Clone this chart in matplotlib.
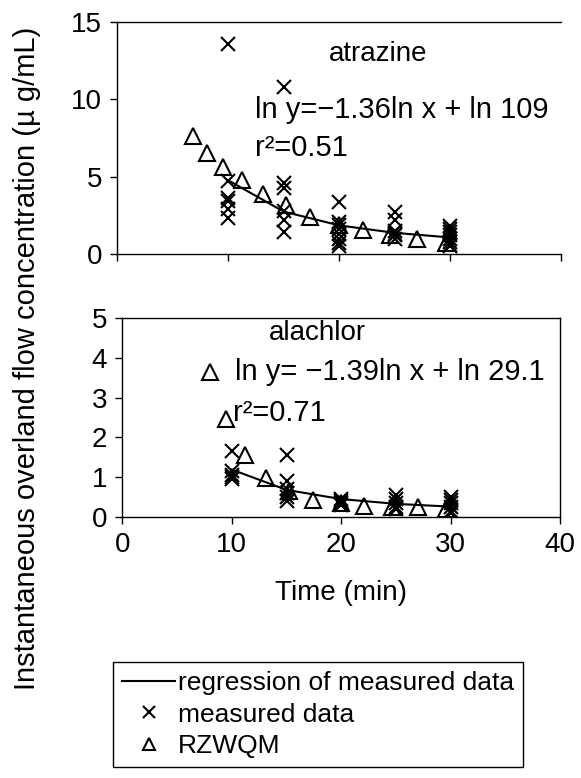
import matplotlib
matplotlib.use("Agg")
import matplotlib.pyplot as plt
from matplotlib.lines import Line2D

plt.rcParams['font.family'] = ['Liberation Sans', 'DejaVu Sans']

# atrazine - measured data (time in min, concentration)
atr_meas_x = [10]*6 + [15]*6 + [20]*8 + [25]*6 + [30]*8
atr_meas_y = [13.6, 4.7, 3.6, 3.4, 2.9, 2.3,
              10.8, 4.6, 4.3, 2.8, 2.2, 1.45,
              3.35, 2.1, 1.85, 1.6, 1.3, 1.0, 0.7, 0.5,
              2.7, 2.2, 1.5, 1.3, 1.2, 1.0,
              1.8, 1.6, 1.4, 1.2, 1.0, 0.8, 0.6, 0.5]
# atrazine - RZWQM
atr_sim_x = [6.8, 8.1, 9.5, 11.2, 13.1, 15.2, 17.4, 20.0, 22.1, 24.6, 27.0, 29.6]
atr_sim_y = [7.6, 6.5, 5.65, 4.8, 3.9, 3.2, 2.4, 1.9, 1.55, 1.25, 0.95, 0.7]
# atrazine - regression
reg_x = [10, 15, 20, 25, 30]
atr_reg_y = [4.76, 2.74, 1.85, 1.37, 1.07]

# alachlor - measured data
ala_meas_x = [10]*5 + [15]*6 + [20]*4 + [25]*5 + [30]*6
ala_meas_y = [1.65, 1.15, 1.05, 1.0, 0.95,
              1.55, 0.9, 0.7, 0.6, 0.5, 0.4,
              0.45, 0.4, 0.35, 0.3,
              0.55, 0.45, 0.35, 0.25, 0.2,
              0.5, 0.42, 0.35, 0.25, 0.15, 0.1]
# alachlor - RZWQM
ala_sim_x = [8.0, 9.5, 11.2, 13.1, 15.2, 17.4, 20.0, 22.1, 24.6, 27.0, 29.6]
ala_sim_y = [3.65, 2.45, 1.56, 0.97, 0.65, 0.43, 0.36, 0.28, 0.26, 0.26, 0.2]
# alachlor - regression
ala_reg_y = [1.19, 0.68, 0.45, 0.33, 0.26]

fig = plt.figure(figsize=(5.81, 7.78), dpi=100)
ax1 = fig.add_axes([0.2022, 0.6735, 0.7634, 0.2982])
ax2 = fig.add_axes([0.2108, 0.3355, 0.7530, 0.2558])

tri = dict(marker='^', ms=11, mfc='none', mec='black', mew=1.5, ls='none')
crs = dict(marker='x', ms=10, color='black', mew=1.5, ls='none')

# top: atrazine
ax1.plot(reg_x, atr_reg_y, color='black', lw=1.5)
ax1.plot(atr_meas_x, atr_meas_y, **crs)
ax1.plot(atr_sim_x, atr_sim_y, **tri)
ax1.set_xlim(0, 40)
ax1.set_ylim(0, 15)
ax1.set_yticks([0, 5, 10, 15])
ax1.set_xticks([0, 10, 20, 30, 40])
ax1.set_xticklabels([])
ax1.spines['right'].set_visible(False)
ax1.text(23.5, 12.9, 'atrazine', fontsize=20, ha='center', va='center')
ax1.text(12.4, 9.3, 'ln y=\u22121.36ln x + ln 109', fontsize=21, va='center')
ax1.text(12.4, 6.85, 'r\u00b2=0.51', fontsize=21, va='center')

# bottom: alachlor
ax2.plot(reg_x, ala_reg_y, color='black', lw=1.5)
ax2.plot(ala_meas_x, ala_meas_y, **crs)
ax2.plot(ala_sim_x, ala_sim_y, **tri)
ax2.set_xlim(0, 40)
ax2.set_ylim(0, 5)
ax2.set_yticks([0, 1, 2, 3, 4, 5])
ax2.set_xticks([0, 10, 20, 30, 40])
ax2.text(17.8, 4.62, 'alachlor', fontsize=20, ha='center', va='center')
ax2.text(10.3, 3.64, 'ln y= \u22121.39ln x + ln 29.1', fontsize=21, va='center')
ax2.text(10.1, 2.6, 'r\u00b2=0.71', fontsize=21, va='center')

for ax in (ax1, ax2):
    ax.tick_params(direction='out', length=5, width=1, labelsize=20, pad=6)
    for s in ax.spines.values():
        s.set_linewidth(1)

fig.text(341/581, 1 - 593/778, 'Time (min)', fontsize=20, ha='center', va='center')
fig.text(27/581, 1 - 358/778, 'Instantaneous overland flow concentration (\u00b5 g/mL)',
         fontsize=21, rotation=90, ha='center', va='center')

handles = [Line2D([], [], color='black', lw=1.5),
           Line2D([], [], marker='x', ms=8, color='black', mew=1.5, ls='none'),
           Line2D([], [], marker='^', ms=8, mfc='none', mec='black', mew=1.5, ls='none')]
labels = ['regression of measured data', 'measured data', 'RZWQM']
fig.legend(handles, labels, loc='upper left', bbox_to_anchor=(113/581, 1 - 662/778),
           fontsize=19, frameon=True, fancybox=False, edgecolor='black',
           framealpha=1, borderpad=0.35, labelspacing=0.28, handlelength=2.0,
           handletextpad=0.1, borderaxespad=0)

fig.savefig('out.png', dpi=100)
